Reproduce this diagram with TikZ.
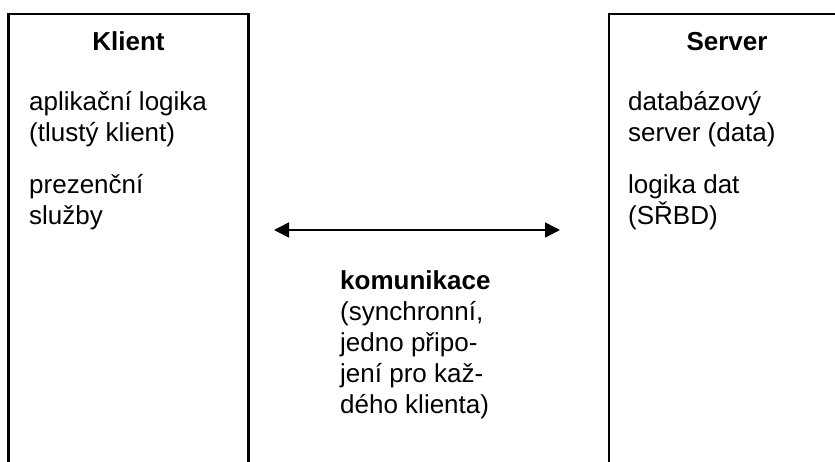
\documentclass[tikz,border=0pt]{standalone}
\usepackage{fontspec}
\setmainfont{Liberation Sans}
\usetikzlibrary{arrows.meta}
\begin{document}
\begin{tikzpicture}[x=1pt,y=-1pt,
  boxline/.style={line width=2.2pt,line cap=rect},
  title/.style={font=\fontsize{26}{31}\selectfont\bfseries,inner sep=0pt,anchor=base},
  body/.style={font=\fontsize{26}{31}\selectfont,inner sep=0pt,anchor=base west,align=left},
  link/.style={line width=1.6pt,{Triangle[length=15pt,width=15pt]}-{Triangle[length=15pt,width=15pt]}}]
\clip (0,0) rectangle (835,461);
\fill[white] (0,0) rectangle (835,461);
% boxes (open at bottom / right edge of picture)
\draw[boxline] (8.5,480) -- (8.5,14) -- (248.5,14) -- (248.5,480);
\draw[boxline] (609,480) -- (609,14) -- (850,14);
% titles
\node[title] (klient) at (128.5,50) {Klient};
\node[title] (server) at (727,50) {Server};
% client text (base anchor = baseline of last line)
\node[body] (kl1) at (29,141) {aplikační logika\\(tlustý klient)};
\node[body] (kl2) at (29,224) {prezenční\\služby};
% server text
\node[body] (sv1) at (628,141) {databázový\\server (data)};
\node[body] (sv2) at (628,224) {logika dat\\(SŘBD)};
% arrow
\coordinate (la) at (274,230);
\coordinate (ra) at (560,230);
\draw[link] (la) -- (ra);
% communication text
\node[body] (kom) at (340,413) {\textbf{komunikace}\\(synchronní,\\jedno připo-\\jení pro kaž-\\dého klienta)};
\end{tikzpicture}
\end{document}
